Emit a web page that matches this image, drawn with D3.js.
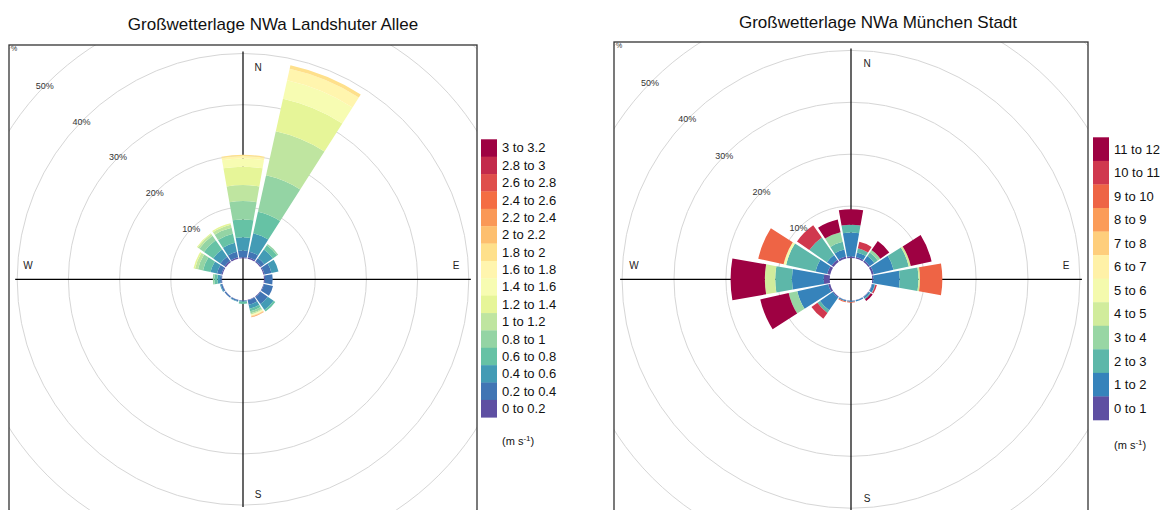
<!DOCTYPE html>
<html>
<head>
<meta charset="utf-8">
<script src="https://cdn.jsdelivr.net/npm/d3@7"></script>
<style>
  html, body { margin: 0; padding: 0; background: #fff; }
  svg { display: block; font-family: "Liberation Sans", Arial, sans-serif; }
</style>
</head>
<body>
<svg id="chart" width="1170" height="510"></svg>
<script>
// Wind direction sectors (22.5° each, clockwise from north)
const directions = ["N","NNE","NE","ENE","E","ESE","SE","SSE","S","SSW","SW","WSW","W","WNW","NW","NNW"];

// Speed class labels (m/s)
const classesLandshuter = ["0 to 0.2","0.2 to 0.4","0.4 to 0.6","0.6 to 0.8","0.8 to 1","1 to 1.2","1.2 to 1.4",
  "1.4 to 1.6","1.6 to 1.8","1.8 to 2","2 to 2.2","2.2 to 2.4","2.4 to 2.6","2.6 to 2.8","2.8 to 3","3 to 3.2"];
const classesStadt = ["0 to 1","1 to 2","2 to 3","3 to 4","4 to 5","5 to 6","6 to 7","7 to 8","8 to 9","9 to 10","10 to 11","11 to 12"];

// Cumulative frequency (%) at the upper edge of each speed class, per direction.
// Classes beyond the end of a list add nothing.
const cumLandshuter = [
  [0.2, 1.5, 4.1, 7.6, 11.2, 14.3, 17.9, 19.5, 20.0, 20.2],        // N
  [0.3, 1.4, 5.1, 9.4, 16.7, 25.5, 32.0, 35.7, 38.0, 38.7],        // NNE
  [0.2, 1.0, 3.0, 4.0, 4.3],                                       // NE
  [0.2, 1.6, 3.0],                                                 // ENE
  [0.2, 1.7],                                                      // E
  [0.1, 1.9],                                                      // ESE
  [0.1, 1.8, 3.2, 3.6],                                            // SE
  [0.1, 1.0, 1.8, 2.3, 2.7, 2.9, 3.0, 3.1, 3.2, 3.3, 3.4, 3.5],    // SSE
  [0.05, 0.15, 0.3, 0.7],                                          // S
  [0.05, 0.3, 0.4],                                                // SSW
  [0.05, 0.3],                                                     // SW
  [0.05, 0.35, 0.5],                                               // WSW
  [0.1, 0.4, 0.9, 1.5, 1.8],                                       // W
  [0.2, 1.1, 2.4, 3.9, 4.9, 5.5, 5.8],                             // WNW
  [0.3, 1.3, 3.0, 5.2, 6.3, 6.7, 6.9],                             // NW
  [0.3, 1.4, 3.2, 5.0, 6.2, 6.8, 7.1]                              // NNW
];

const cumStadt = [
  [0.3, 4.9, 6.4, 6.4, 6.4, 6.4, 6.4, 6.4, 6.4, 6.4, 6.4, 9.4],     // N
  [0.3, 1.2, 2.0, 2.0, 2.0, 2.0, 2.0, 2.0, 2.0, 2.0, 3.3],          // NNE
  [0.3, 1.4, 2.2, 2.8, 2.8, 2.8, 2.8, 2.8, 2.8, 2.8, 2.8, 4.9],     // NE
  [0.4, 4.3, 7.3, 7.3, 7.7, 7.7, 7.7, 7.7, 7.7, 7.7, 7.7, 11.8],    // ENE
  [0.2, 5.3, 8.9, 8.9, 9.2, 9.2, 9.2, 9.2, 9.2, 13.5],              // E
  [0.1, 0.6, 0.7, 0.7, 0.7, 0.7, 0.7, 0.7, 0.7, 0.7, 1.0],          // ESE
  [0.1, 0.4, 0.6, 0.6, 0.6, 0.6, 0.6, 0.6, 0.6, 0.6, 0.6, 1.0],     // SE
  [0.05, 0.3],                                                      // SSE
  [0.05, 0.25, 0.25, 0.25, 0.25, 0.25, 0.25, 0.25, 0.25, 0.4],      // S
  [0.05, 0.3, 0.3, 0.3, 0.3, 0.3, 0.3, 0.3, 0.3, 0.45],             // SSW
  [0.2, 3.2, 3.8, 3.8, 3.8, 3.8, 3.8, 3.8, 3.8, 3.8, 5.2],          // SW
  [0.4, 6.5, 6.5, 8.2, 8.2, 8.2, 8.2, 8.2, 8.2, 8.2, 8.2, 13.8],    // WSW
  [1.15, 7.3, 10.5, 10.5, 12.5, 12.5, 12.5, 12.5, 12.5, 12.5, 12.5, 19.1], // W
  [0.6, 2.9, 8.7, 8.7, 8.7, 9.2, 9.2, 9.2, 9.2, 14.2],              // WNW
  [0.5, 1.6, 5.7, 5.7, 5.7, 5.7, 5.7, 5.7, 5.7, 5.7, 8.6],          // NW
  [0.4, 1.8, 3.3, 5.2, 5.2, 5.2, 5.2, 5.2, 5.2, 5.2, 5.2, 7.7]      // NNW
];

// Grid rings (%)
const gridTicks = [10, 20, 30, 40, 50, 60];
const gridLabels = ["10%", "20%", "30%", "40%", "50%"];
const compass = ["N", "E", "S", "W"];

// Reversed "Spectral" ramp: slow = purple, fast = dark red
const spectral = ["#5e4fa2","#3288bd","#66c2a5","#abdda4","#e6f598","#ffffbf","#fee08b","#fdae61","#f46d43","#d53e4f","#9e0142"];
const ramp = d3.piecewise(d3.interpolateRgb, spectral);

const svg = d3.select("#chart");

function drawRose(cfg) {
  const g = svg.append("g");
  const cx = cfg.cx, cy = cfg.cy;
  const n = cfg.classes.length;
  const colors = d3.quantize(ramp, n);
  const r = d3.scaleLinear().domain([0, 50]).range([cfg.r0, cfg.r50]);

  // Title
  g.append("text")
    .attr("x", cfg.titleX).attr("y", cfg.titleY)
    .attr("text-anchor", "middle")
    .attr("font-size", 17).attr("fill", "#111")
    .text(cfg.title);

  const clipId = "clip-" + cfg.id;
  g.append("clipPath").attr("id", clipId)
    .append("rect").attr("x", cfg.box[0]).attr("y", cfg.box[1]).attr("width", cfg.box[2]).attr("height", cfg.box[3]);

  const plot = g.append("g").attr("clip-path", `url(#${clipId})`);

  // Grid circles
  plot.selectAll("circle.grid").data(gridTicks).join("circle")
    .attr("class", "grid")
    .attr("cx", cx).attr("cy", cy).attr("r", d => r(d))
    .attr("fill", "none").attr("stroke", "#d6d6d6").attr("stroke-width", 1);

  // Axis cross
  const rAxis = r(40) + 2;
  plot.append("line").attr("x1", cx).attr("x2", cx).attr("y1", cy - rAxis).attr("y2", cy + rAxis)
    .attr("stroke", "#000").attr("stroke-width", 1.2);
  plot.append("line").attr("x1", cx - rAxis).attr("x2", cx + rAxis).attr("y1", cy).attr("y2", cy)
    .attr("stroke", "#000").attr("stroke-width", 1.2);

  // Stacked speed bands per direction
  const step = 2 * Math.PI / directions.length;
  const half = step / 2 - 1.25 * Math.PI / 180;
  const bands = [];
  cfg.cum.forEach((cum, di) => {
    let prev = 0;
    cum.forEach((c, k) => {
      if (c > prev) bands.push({ dir: di, k, lo: prev, hi: c });
      prev = Math.max(prev, c);
    });
  });
  const arc = d3.arc()
    .innerRadius(d => r(d.lo))
    .outerRadius(d => r(d.hi))
    .startAngle(d => d.dir * step - half)
    .endAngle(d => d.dir * step + half);
  plot.append("g").attr("transform", `translate(${cx},${cy})`)
    .selectAll("path").data(bands).join("path")
    .attr("d", arc)
    .attr("fill", d => colors[d.k]);

  // Ring labels along the north-west diagonal
  const labAng = -45.7 * Math.PI / 180;
  plot.selectAll("text.ring").data(gridLabels).join("text")
    .attr("class", "ring")
    .attr("x", (d, i) => cx + r(gridTicks[i]) * Math.sin(labAng))
    .attr("y", (d, i) => cy - r(gridTicks[i]) * Math.cos(labAng))
    .attr("text-anchor", "middle").attr("dominant-baseline", "central")
    .attr("font-size", 9).attr("fill", "#333")
    .text(d => d);

  // Compass letters
  const off = cfg.compassOff;
  const pos = { N: [off.dx, -off.ns], E: [off.ew, -14], S: [off.dx, off.ns + 3], W: [-off.ew - 2, -14] };
  plot.selectAll("text.compass").data(compass).join("text")
    .attr("class", "compass")
    .attr("x", d => cx + pos[d][0]).attr("y", d => cy + pos[d][1])
    .attr("text-anchor", "middle").attr("dominant-baseline", "central")
    .attr("font-size", 10).attr("fill", "#222")
    .text(d => d);

  // Tiny unit mark in the corner
  g.append("text").attr("x", cfg.box[0] + 2).attr("y", cfg.box[1] + 6)
    .attr("font-size", 7).attr("fill", "#333").text("%");

  // Panel frame
  g.append("rect").attr("x", cfg.box[0]).attr("y", cfg.box[1]).attr("width", cfg.box[2]).attr("height", cfg.box[3])
    .attr("fill", "none").attr("stroke", "#333").attr("stroke-width", 1.3);

  // Legend
  const lg = g.append("g");
  const items = cfg.classes.map((c, i) => ({ label: c, color: colors[i], i })).reverse();
  const sh = cfg.legend.h / n;
  lg.selectAll("rect").data(items).join("rect")
    .attr("x", cfg.legend.x).attr("y", (d, j) => cfg.legend.y + j * sh)
    .attr("width", 16).attr("height", sh + 0.3)
    .attr("fill", d => d.color);
  lg.selectAll("text").data(items).join("text")
    .attr("x", cfg.legend.x + 21).attr("y", (d, j) => cfg.legend.y + j * sh + sh / 2)
    .attr("dominant-baseline", "central")
    .attr("font-size", 13).attr("fill", "#111")
    .text(d => d.label);
  const unit = lg.append("text")
    .attr("x", cfg.legend.x + 21).attr("y", cfg.legend.unitY)
    .attr("font-size", 11).attr("fill", "#111");
  unit.append("tspan").text("(m s");
  unit.append("tspan").attr("dy", -4).attr("font-size", 8).text("-1");
  unit.append("tspan").attr("dy", 4).text(")");
}

drawRose({
  id: "la", title: "Großwetterlage NWa Landshuter Allee",
  titleX: 273, titleY: 30,
  box: [9, 45, 468, 468], cx: 243, cy: 279.3, r0: 21, r50: 277,
  classes: classesLandshuter, cum: cumLandshuter,
  compassOff: { dx: 15, ns: 212, ew: 213 },
  legend: { x: 481, y: 139.3, h: 278, unitY: 445 }
});

drawRose({
  id: "ms", title: "Großwetterlage NWa München Stadt",
  titleX: 878, titleY: 28,
  box: [614, 42, 474, 474], cx: 851, cy: 279.3, r0: 21.3, r50: 280.8,
  classes: classesStadt, cum: cumStadt,
  compassOff: { dx: 16, ns: 216, ew: 215 },
  legend: { x: 1093, y: 137.3, h: 282.7, unitY: 449 }
});
</script>
</body>
</html>
